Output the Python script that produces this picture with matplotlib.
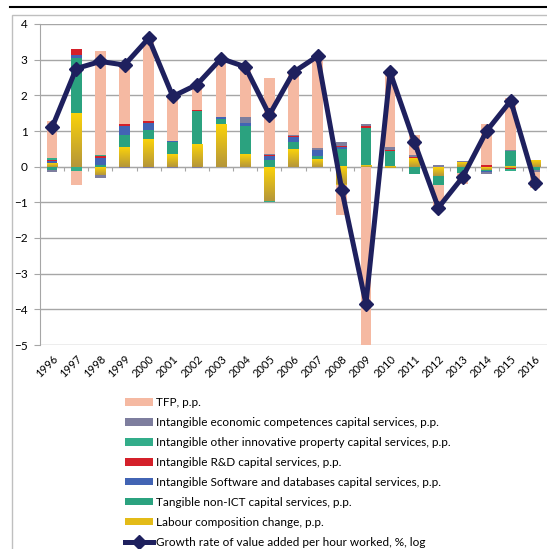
import numpy as np
import matplotlib
matplotlib.use('Agg')
import matplotlib.pyplot as plt
from matplotlib.patches import Rectangle
from matplotlib.lines import Line2D
from matplotlib.colors import LinearSegmentedColormap

plt.rcParams['font.family'] = ['Lato', 'DejaVu Sans']

years = [str(y) for y in range(1996, 2017)]

# contributions, p.p.
labour = [0.10, 1.49, -0.22, 0.54, 0.78, 0.36, 0.64, 1.20, 0.34, -0.95, 0.50,
          0.20, -0.50, 0.03, -0.05, 0.25, -0.25, 0.12, -0.08, -0.05, 0.17]
tangible = [-0.08, 1.56, 0.04, 0.34, 0.24, 0.33, 0.91, 0.14, 0.81, 0.20, 0.18,
            0.11, 0.50, 1.06, 0.45, -0.20, -0.25, -0.18, -0.05, 0.45, -0.08]
software = [0.05, 0.07, 0.19, 0.27, 0.20, 0.02, 0.00, 0.04, 0.07, 0.09, 0.15,
            0.17, 0.04, 0.00, 0.00, 0.00, 0.00, 0.00, -0.03, 0.00, -0.02]
rnd = [0.03, 0.18, 0.08, 0.05, 0.07, 0.02, 0.03, 0.00, 0.00, 0.04, 0.03,
       0.00, 0.04, 0.04, 0.03, 0.03, 0.00, 0.00, 0.04, -0.02, 0.00]
other_ip = [0.05, -0.12, 0.03, 0.00, 0.00, 0.00, 0.00, -0.02, 0.00, -0.03, -0.02,
            0.00, 0.00, 0.00, 0.00, 0.00, 0.00, 0.00, 0.00, -0.05, 0.00]
econ = [-0.07, 0.00, -0.10, -0.03, -0.03, -0.03, -0.03, 0.00, 0.17, 0.02, 0.02,
        0.05, 0.12, 0.07, 0.07, 0.05, 0.05, 0.05, -0.05, 0.03, -0.05]
tfp = [1.05, -0.40, 2.90, 1.65, 2.27, 1.22, 0.77, 1.62, 1.42, 2.13, 1.81,
       2.47, -0.85, -5.05, 2.08, 0.55, -0.70, -0.30, 1.15, 1.45, -0.45]
growth = [1.10, 2.75, 2.95, 2.85, 3.60, 1.97, 2.30, 3.03, 2.80, 1.45, 2.65,
          3.10, -0.65, -3.85, 2.65, 0.70, -1.15, -0.30, 1.00, 1.85, -0.45]

series = [
    (labour, 'Labour composition change, p.p.', '#E3BB18'),
    (tangible, 'Tangible non-ICT capital services, p.p.', '#2BA27F'),
    (software, 'Intangible Software and databases capital services, p.p.', '#4264B4'),
    (rnd, 'Intangible R&D capital services, p.p.', '#D4202A'),
    (other_ip, 'Intangible other innovative property capital services, p.p.', '#33AD8A'),
    (econ, 'Intangible economic competences capital services, p.p.', '#7E7E9E'),
    (tfp, 'TFP, p.p.', '#F5B9A2'),
]

fig = plt.figure(figsize=(5.47, 5.49), dpi=100)
ax = fig.add_axes([40 / 547, 1 - 345 / 549, 507 / 547, 321 / 549])

x = np.arange(len(years))
pos = np.zeros(len(years))
neg = np.zeros(len(years))
handles = []
gold = LinearSegmentedColormap.from_list('gold', ['#B5963A', '#FAD20A'])
for vals, label, color in series:
    v = np.array(vals)
    bottom = np.where(v >= 0, pos, neg)
    bars = ax.bar(x, v, 0.44, bottom=bottom, color=color, label=label, zorder=3, linewidth=0)
    handles.append(bars)
    pos += np.clip(v, 0, None)
    neg += np.clip(v, None, 0)
    if vals is labour:
        # yellow bars fade to olive at the bottom
        for r in bars:
            h = r.get_height()
            if h == 0:
                continue
            y0, y1 = sorted([r.get_y(), r.get_y() + h])
            ax.imshow(np.linspace(0, 1, 64).reshape(-1, 1), extent=[r.get_x(), r.get_x() + r.get_width(), y0, y1],
                      origin='lower', cmap=gold, aspect='auto', zorder=3.05)

line, = ax.plot(x, growth, color='#1E205E', lw=3.6, marker='D', ms=7.5, zorder=5,
                label='Growth rate of value added per hour worked, %, log')

ax.set_xlim(-0.5, len(years) - 0.5)
ax.set_ylim(-5, 4)
ax.set_yticks(range(-5, 5))
ax.yaxis.grid(True, color='#A6A6A6', lw=1)
ax.set_axisbelow(True)
for s in ['top', 'right', 'bottom']:
    ax.spines[s].set_visible(False)
ax.spines['left'].set_color('#A6A6A6')
ax.tick_params(axis='y', length=4, color='#A6A6A6', labelsize=8.5, pad=5)
ax.set_xticks(x, years, rotation=45, ha='right', rotation_mode='anchor', fontsize=8)
ax.tick_params(axis='x', length=0, pad=6)

# category axis crossing at zero
zero = ax.secondary_xaxis(0, transform=ax.transData)
edges = np.arange(-0.5, len(years), 1)
zero.set_xticks(edges, [''] * len(edges))
zero.tick_params(length=3, color='#A6A6A6')
zero.spines['bottom'].set_color('#A6A6A6')

# chart frame and header rule
fig.add_artist(Rectangle((12 / 547, -0.01), 1, 1 - 15 / 549 + 0.01, transform=fig.transFigure,
                         fill=False, ec='#BFBFBF', lw=1))
fig.add_artist(Line2D([10 / 547, 1], [1 - 7 / 549] * 2, color='black', lw=1.5))

leg_h = handles[::-1] + [line]
fig.legend(leg_h, [h.get_label() for h in leg_h], loc='upper left',
           bbox_to_anchor=(125 / 547, 1 - 397 / 549), frameon=False, fontsize=8.5,
           handlelength=2.4, handleheight=0.6, handletextpad=0.2, labelspacing=0.76,
           borderpad=0, borderaxespad=0)

fig.savefig('out.png', dpi=100)
